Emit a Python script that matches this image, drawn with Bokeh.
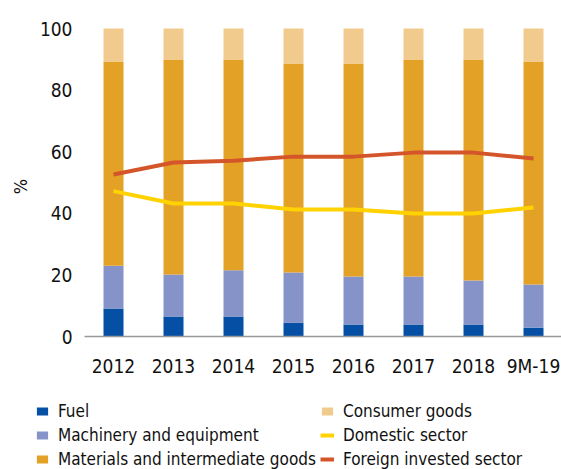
import math
from bokeh.plotting import figure
from bokeh.models import (Range1d, Legend, LegendItem, ColumnDataSource, LinearAxis,
                          FixedTicker, Label)
from bokeh.embed import file_html
from bokeh.resources import INLINE

categories = ["2012", "2013", "2014", "2015", "2016", "2017", "2018", "9M-19"]
fuel = [9.1, 6.5, 6.5, 4.5, 3.9, 3.9, 3.9, 2.9]
machinery = [13.9, 13.6, 15.0, 16.3, 15.6, 15.6, 14.3, 14.0]
materials = [66.3, 69.8, 68.4, 67.8, 69.1, 70.4, 71.7, 72.4]
consumer = [10.7, 10.1, 10.1, 11.4, 11.4, 10.1, 10.1, 10.7]
domestic = [47.2, 43.2, 43.2, 41.2, 41.2, 39.9, 39.9, 41.9]
foreign = [52.6, 56.5, 57.1, 58.4, 58.4, 59.7, 59.7, 57.8]
y_ticks = [0, 20, 40, 60, 80, 100]

series_names = ["Fuel", "Machinery and equipment", "Materials and intermediate goods", "Consumer goods"]
line_names = ["Domestic sector", "Foreign invested sector"]
series_keys = ["fuel", "machinery", "materials", "consumer"]
colors = ["#054FA5", "#8593C8", "#E3A126", "#F1CB8E"]
line_colors = ["#FFD200", "#D4552A"]
FONT = "DejaVu Sans Condensed"

W, H = 561, 469
# pixel geometry of the plotting area (layout only)
X0_PX, DX_PX = 113.0, 60.0        # centre of first category, category pitch
Y0_PX, Y100_PX = 336.0, 28.0      # pixel rows of 0 % and 100 %
AX_LEFT_PX = 84.0
ppu = (Y0_PX - Y100_PX) / 100.0
x_start = -X0_PX / DX_PX
x_end = (W - X0_PX) / DX_PX
y_start = -(H - Y0_PX) / ppu
y_end = Y0_PX / ppu
x_axis_left = (AX_LEFT_PX - X0_PX) / DX_PX

idx = list(range(len(categories)))
src = ColumnDataSource(dict(x=idx, fuel=fuel, machinery=machinery,
                            materials=materials, consumer=consumer,
                            domestic=domestic, foreign=foreign))

p = figure(x_range=Range1d(x_start, x_end), y_range=Range1d(y_start, y_end),
           width=W, height=H, output_backend="svg", toolbar_location=None,
           x_axis_type=None, y_axis_type=None,
           min_border_left=0, min_border_right=0, min_border_top=0, min_border_bottom=0)

bars = p.vbar_stack(series_keys, x="x", width=20 / DX_PX, color=colors, source=src, line_width=0)
l_dom = p.line(x="x", y="domestic", source=src, color=line_colors[0], line_width=4)
l_for = p.line(x="x", y="foreign", source=src, color=line_colors[1], line_width=4)

p.xgrid.visible = False
p.ygrid.visible = False
p.outline_line_color = None

yaxis = LinearAxis(fixed_location=x_axis_left, ticker=FixedTicker(ticks=y_ticks),
                   axis_line_color=None, major_tick_line_color=None, minor_tick_line_color=None,
                   major_label_text_font=FONT, major_label_text_font_size="19px",
                   major_label_text_color="#111111", major_label_standoff=6)
p.add_layout(yaxis, "left")

xaxis = LinearAxis(fixed_location=0, ticker=FixedTicker(ticks=idx),
                   major_label_overrides={i: c for i, c in zip(idx, categories)},
                   bounds=(x_axis_left, x_end),
                   axis_line_color="#999999", axis_line_width=1.5,
                   major_tick_line_color=None, minor_tick_line_color=None,
                   major_label_text_font=FONT, major_label_text_font_size="19px",
                   major_label_text_color="#111111", major_label_standoff=12)
p.add_layout(xaxis, "below")

ylabel = Label(x=(20 - X0_PX) / DX_PX, y=(Y0_PX - 186) / ppu, text="%", angle=math.pi / 2,
               text_font=FONT, text_font_size="18px", text_color="#111111",
               text_align="center", text_baseline="middle")
p.add_layout(ylabel)

items = [LegendItem(label=n, renderers=[r]) for n, r in zip(series_names, bars)]
items += [LegendItem(label=line_names[0], renderers=[l_dom]),
          LegendItem(label=line_names[1], renderers=[l_for])]

legend = Legend(items=items, ncols=2, location=(35, 0),
                label_text_font=FONT, label_text_font_size="17px",
                label_text_color="#111111",
                glyph_width=14, glyph_height=10, label_standoff=9,
                spacing=4, padding=0, margin=0, label_width=257,
                border_line_color=None, background_fill_alpha=0,
                label_height=20)
p.add_layout(legend, "center")

open("out.html", "w").write(file_html(p, INLINE))
